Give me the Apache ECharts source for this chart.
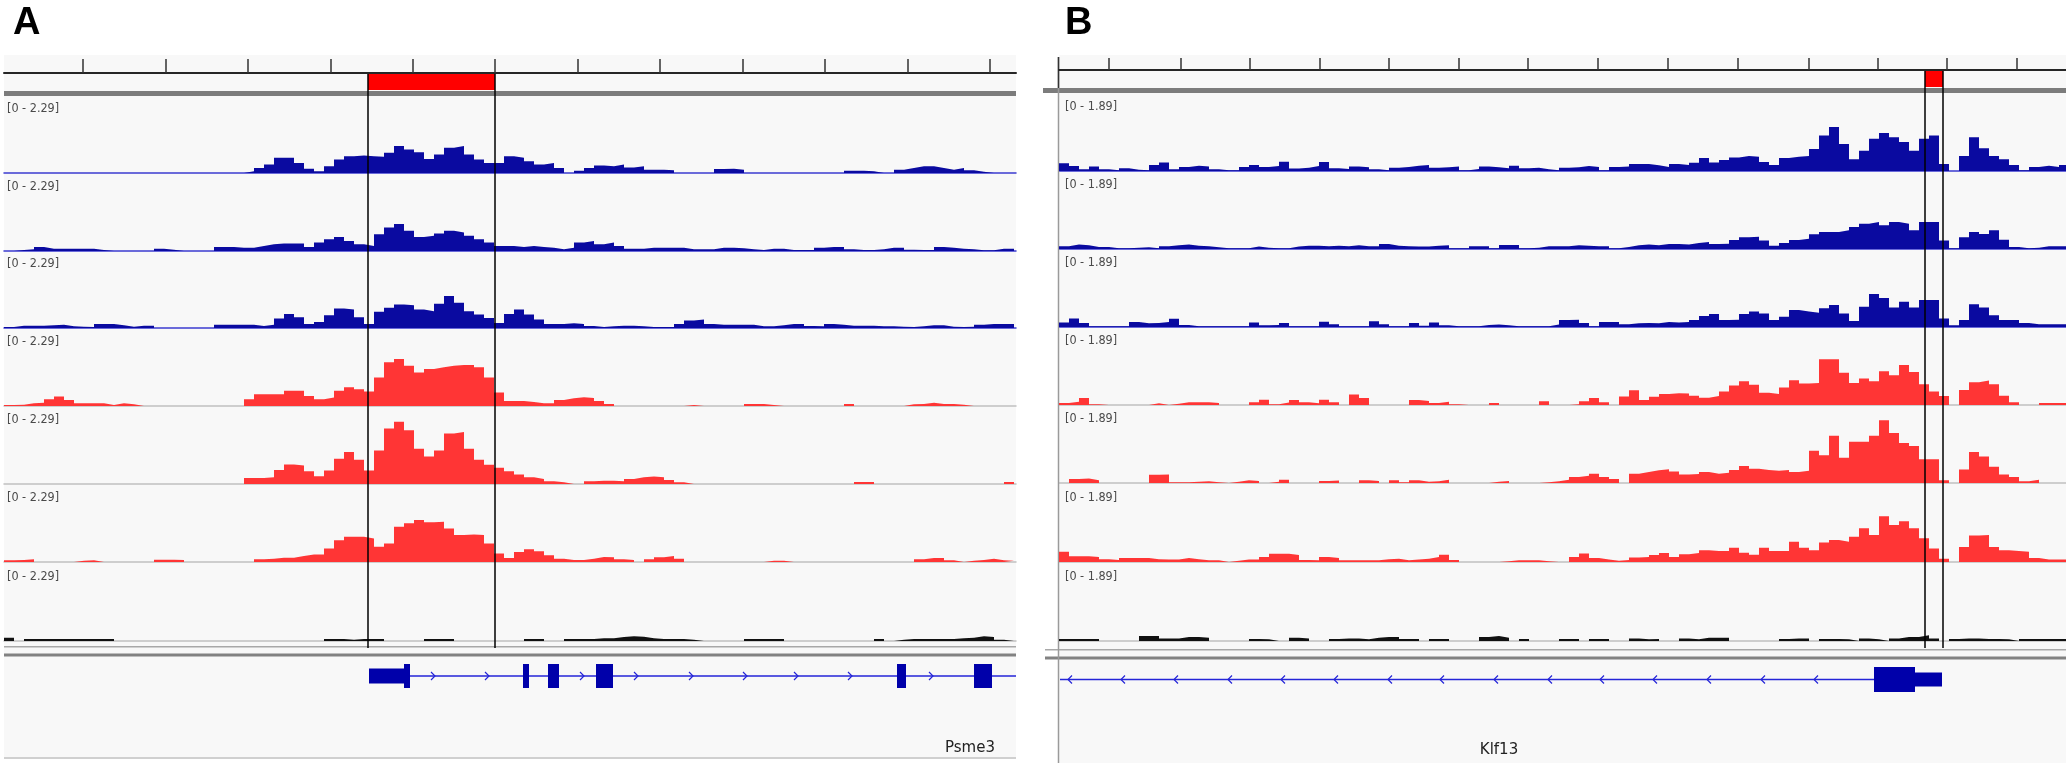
<!DOCTYPE html>
<html>
<head>
<meta charset="utf-8">
<script src="https://cdn.jsdelivr.net/npm/echarts@6/dist/echarts.min.js"></script>
<style>
  html, body { margin: 0; padding: 0; background: #fff; }
  #chart { width: 2066px; height: 765px; }
</style>
</head>
<body>
<div id="chart"></div>
<script>
// coverage per 10-px bin, panel A (Psme3), data range 0 - 2.29
const psme3Blue1 = [0,0,0,0,0,0,0,0,0,0, 0,0,0,0,0,0,0,0,0,0, 0,0,0,0,0.05,0.15,0.25,0.45,0.45,0.3,
  0.13,0.05,0.2,0.4,0.5,0.52,0.5,0.48,0.6,0.8, 0.7,0.62,0.42,0.55,0.75,0.8,0.55,0.4,0.3,0.3,
  0.5,0.45,0.35,0.25,0.3,0.15,0,0.07,0.15,0.22, 0.2,0.25,0.16,0.2,0.1,0.1,0.08,0,0,0,
  0,0.12,0.13,0.1,0,0,0,0,0,0, 0,0,0,0,0.07,0.07,0.05,0,0,0.1,
  0.15,0.2,0.2,0.15,0.1,0.15,0.08,0.04,0,0, 0];
const psme3Blue2 = [0,0.03,0.05,0.12,0.07,0.07,0.07,0.07,0.07,0.03, 0,0,0,0,0,0.07,0.04,0,0,0,
  0,0.12,0.12,0.1,0.1,0.15,0.2,0.22,0.22,0.22, 0.12,0.25,0.35,0.42,0.3,0.2,0.15,0.5,0.7,0.8,
  0.6,0.42,0.45,0.52,0.6,0.55,0.45,0.35,0.25,0.15, 0.15,0.12,0.15,0.12,0.1,0.05,0.1,0.25,0.3,0.2,
  0.25,0.15,0.07,0.07,0.1,0.1,0.1,0.1,0.05,0.05, 0.05,0.1,0.1,0.08,0.05,0.03,0.07,0.07,0.03,0.03,
  0.03,0.1,0.12,0.12,0.05,0.03,0.03,0.05,0.1,0.1, 0.04,0.03,0.03,0.12,0.1,0.07,0.05,0.02,0.02,0.07,
  0.07];
const psme3Blue3 = [0.03,0.07,0.07,0.07,0.08,0.1,0.05,0.04,0.03,0.12, 0.12,0.08,0.04,0.07,0.07,0,0,0,0,0,
  0,0.1,0.1,0.1,0.1,0.06,0.1,0.28,0.42,0.32, 0.12,0.18,0.38,0.58,0.55,0.32,0.12,0.48,0.6,0.7,
  0.68,0.55,0.5,0.72,0.95,0.75,0.5,0.4,0.3,0.15, 0.42,0.55,0.4,0.25,0.12,0.12,0.14,0.12,0.06,0.03,
  0.05,0.07,0.07,0.05,0.03,0.03,0.03,0.12,0.22,0.25, 0.12,0.1,0.1,0.1,0.1,0.05,0.05,0.08,0.12,0.12,
  0.06,0.05,0.12,0.1,0.07,0.07,0.07,0.05,0.05,0.04, 0.03,0.05,0.08,0.08,0.04,0.03,0.04,0.1,0.12,0.12,
  0.12];
const psme3Red1 = [0.03,0.04,0.08,0.1,0.2,0.28,0.18,0.08,0.08,0.08, 0.03,0.08,0.05,0,0,0,0,0,0,0,
  0,0,0,0,0.2,0.35,0.35,0.35,0.45,0.45, 0.3,0.2,0.25,0.45,0.56,0.5,0.43,0.85,1.3,1.4,
  1.2,1.0,1.1,1.15,1.2,1.22,1.22,1.15,0.85,0.4, 0.15,0.15,0.12,0.08,0.08,0.18,0.23,0.26,0.24,0.15,
  0.06,0,0,0,0,0,0,0,0.03,0, 0,0,0,0,0.06,0.06,0.03,0,0,0,
  0,0,0,0,0.06,0,0,0,0,0, 0.05,0.06,0.1,0.06,0.06,0.04,0,0,0,0,
  0];
const psme3Red2 = [0,0,0,0,0,0,0,0,0,0, 0,0,0,0,0,0,0,0,0,0,
  0,0,0,0,0.18,0.18,0.2,0.42,0.58,0.55, 0.38,0.23,0.4,0.75,0.95,0.72,0.4,1.0,1.65,1.85,
  1.6,1.05,0.82,1.0,1.5,1.55,1.05,0.72,0.57,0.48, 0.38,0.28,0.2,0.15,0.08,0.05,0,0,0.08,0.1,
  0.1,0.08,0.15,0.2,0.22,0.2,0.12,0.05,0,0, 0,0,0,0,0,0,0,0,0,0,
  0,0,0,0,0,0.06,0.06,0,0,0, 0,0,0,0,0,0,0,0,0,0,
  0.06];
const psme3Red3 = [0.05,0.06,0.08,0,0,0,0,0.04,0.05,0, 0,0,0,0,0,0.07,0.07,0.06,0,0,
  0,0,0,0,0,0.08,0.1,0.13,0.13,0.18, 0.22,0.22,0.4,0.65,0.75,0.75,0.7,0.45,0.55,1.05,
  1.15,1.25,1.18,1.2,1.0,0.8,0.82,0.8,0.55,0.25, 0.12,0.3,0.38,0.32,0.2,0.1,0.06,0.06,0.1,0.15,
  0.14,0.08,0.06,0,0.08,0.14,0.18,0.1,0,0, 0,0,0,0,0,0,0.04,0.04,0,0,
  0,0,0,0,0,0,0,0,0,0, 0,0.08,0.12,0.12,0.05,0,0.04,0.06,0.1,0.05,
  0.04];
const psme3Input = [0.1,0,0.06,0.06,0.06,0.06,0.06,0.06,0.06,0.06, 0.06,0,0,0,0,0,0,0,0,0,
  0,0,0,0,0,0,0,0,0,0, 0,0,0.06,0.06,0.04,0.06,0.06,0.06,0,0,
  0,0,0.06,0.06,0.06,0,0,0,0,0, 0,0,0.06,0.06,0,0,0.06,0.06,0.06,0.08,
  0.08,0.12,0.14,0.13,0.08,0.06,0.06,0.06,0.04,0, 0,0,0,0,0.06,0.06,0.06,0.06,0,0,
  0,0,0,0,0,0,0,0.06,0,0.04, 0.06,0.06,0.06,0.06,0.06,0.08,0.1,0.14,0.12,0.04,
  0];

// coverage per 10-px bin, panel B (Klf13), data range 0 - 1.89
const klf13Blue1 = [0.19,0.12,0.04,0.11,0.04,0.02,0.07,0.03,0.02,0.15, 0.21,0.04,0.1,0.13,0.11,0.04,0.02,0.02,0.1,0.15,
  0.1,0.12,0.23,0.06,0.08,0.12,0.22,0.07,0.05,0.11, 0.09,0.04,0.02,0.08,0.1,0.13,0.15,0.08,0.09,0.11,
  0.02,0.05,0.11,0.09,0.07,0.13,0.07,0.08,0.04,0.02, 0.08,0.09,0.12,0.1,0.02,0.1,0.11,0.17,0.17,0.14,
  0.1,0.17,0.15,0.2,0.32,0.21,0.27,0.33,0.37,0.35, 0.22,0.15,0.32,0.35,0.37,0.54,0.87,1.08,0.66,0.29,
  0.5,0.79,0.93,0.83,0.71,0.5,0.79,0.87,0.17,0, 0.37,0.83,0.56,0.37,0.29,0.15,0.02,0.1,0.13,0.1,
  0.15];
const klf13Blue2 = [0.07,0.11,0.09,0.05,0.05,0.02,0.02,0.03,0.04,0.02, 0.07,0.09,0.11,0.08,0.07,0.04,0.02,0.02,0.02,0.06,
  0.03,0.02,0.02,0.06,0.08,0.08,0.07,0.08,0.07,0.09, 0.07,0.07,0.12,0.08,0.07,0.06,0.06,0.08,0.09,0.02,
  0.02,0.07,0.07,0.02,0.1,0.1,0.02,0.03,0.07,0.07, 0.07,0.09,0.08,0.07,0.07,0.02,0.05,0.09,0.11,0.09,
  0.12,0.12,0.11,0.15,0.17,0.12,0.13,0.22,0.29,0.3, 0.21,0.08,0.15,0.22,0.25,0.36,0.42,0.42,0.46,0.54,
  0.62,0.66,0.58,0.66,0.62,0.46,0.66,0.66,0.21,0.02, 0.29,0.42,0.37,0.46,0.23,0.05,0.02,0.03,0.07,0.07,
  0.07];
const klf13Blue3 = [0.11,0.21,0.1,0.02,0.02,0.02,0.02,0.12,0.09,0.1, 0.12,0.2,0.05,0.02,0.02,0.02,0.02,0.02,0.02,0.11,
  0.04,0.05,0.1,0.02,0.02,0.02,0.13,0.07,0.02,0.02, 0.02,0.14,0.07,0.02,0.02,0.1,0.03,0.11,0.04,0.02,
  0.02,0.02,0.05,0.06,0.04,0.02,0.02,0.02,0.02,0.06, 0.17,0.18,0.1,0.02,0.12,0.12,0.07,0.09,0.1,0.09,
  0.12,0.11,0.12,0.17,0.27,0.32,0.17,0.18,0.32,0.38, 0.33,0.17,0.25,0.42,0.38,0.35,0.46,0.54,0.33,0.15,
  0.5,0.81,0.71,0.48,0.62,0.48,0.66,0.66,0.21,0.04, 0.17,0.56,0.48,0.29,0.17,0.17,0.1,0.07,0.07,0.07,
  0.07];
const klf13Red1 = [0.05,0.08,0.17,0.02,0,0,0,0,0,0.04, 0,0.03,0.07,0.07,0.07,0.05,0,0,0,0.07,
  0.13,0.02,0.06,0.12,0.07,0.04,0.13,0.07,0,0.26, 0.17,0,0,0,0,0.12,0.1,0.05,0.08,0.02,
  0,0,0,0.05,0,0,0,0,0.09,0, 0,0.02,0.09,0.17,0.07,0,0.21,0.36,0.12,0.2,
  0.27,0.29,0.28,0.23,0.18,0.22,0.33,0.48,0.58,0.5, 0.3,0.27,0.43,0.61,0.53,0.54,1.12,1.12,0.79,0.54,
  0.65,0.58,0.83,0.73,0.98,0.81,0.51,0.33,0.22,0, 0.37,0.56,0.6,0.51,0.23,0.07,0,0,0.05,0.05,
  0.05];
const klf13Red2 = [0,0.1,0.11,0.07,0,0,0,0,0,0.2, 0.21,0.02,0.02,0.03,0.04,0.02,0,0.03,0.07,0.05,
  0,0.03,0.08,0,0,0,0.05,0.06,0,0, 0.07,0.05,0,0.07,0.02,0.07,0.03,0.04,0.08,0,
  0,0,0,0.03,0.05,0,0,0,0.02,0.04, 0.08,0.15,0.18,0.23,0.15,0.1,0,0.23,0.27,0.31,
  0.34,0.28,0.21,0.22,0.27,0.23,0.25,0.32,0.42,0.35, 0.32,0.3,0.32,0.27,0.3,0.79,0.68,1.16,0.62,1.01,
  1.01,1.16,1.54,1.23,0.98,0.91,0.58,0.58,0.07,0, 0.33,0.76,0.65,0.4,0.21,0.15,0.04,0.08,0,0,
  0];
const klf13Red3 = [0.25,0.14,0.14,0.12,0.07,0.05,0.1,0.1,0.1,0.07, 0.06,0.06,0.1,0.07,0.04,0.04,0,0.03,0.06,0.06,
  0.12,0.2,0.2,0.17,0.05,0.04,0.12,0.1,0.04,0.04, 0.04,0.04,0.07,0.08,0.04,0.06,0.08,0.12,0.18,0.05,
  0,0,0,0,0.02,0.04,0.04,0.04,0.02,0, 0,0.12,0.21,0.1,0.06,0.03,0.05,0.11,0.12,0.17,
  0.22,0.12,0.19,0.22,0.29,0.27,0.27,0.35,0.23,0.18, 0.35,0.27,0.27,0.5,0.35,0.29,0.48,0.54,0.5,0.62,
  0.83,0.66,1.12,0.91,1.0,0.83,0.58,0.33,0.08,0, 0.37,0.65,0.66,0.37,0.29,0.27,0.25,0.1,0.06,0.06,
  0.06];
const klf13Input = [0.05,0.05,0.05,0.05,0,0,0,0,0.12,0.12, 0.06,0.06,0.1,0.1,0.08,0,0,0,0,0.05,
  0.04,0,0,0.08,0.06,0,0,0.05,0.06,0.06, 0.04,0.08,0.1,0.1,0.05,0.05,0,0.05,0.05,0,
  0,0,0.1,0.12,0.08,0,0.05,0,0,0, 0.05,0.05,0,0.05,0.05,0,0,0.06,0.04,0.05,
  0,0,0.06,0.04,0.08,0.08,0.08,0,0,0, 0,0,0.05,0.06,0.06,0,0.05,0.05,0.04,0,
  0.06,0.04,0,0.06,0.1,0.1,0.14,0.06,0,0.05, 0.06,0.06,0.05,0.05,0.04,0,0.05,0.05,0.05,0.05,
  0.05];

// ruler ticks and highlighted region (bin units)
const psme3Ticks = [7.9, 16.2, 24.4, 32.7, 40.9, 49.1, 57.4, 65.6, 73.9, 82.1, 90.4, 98.6];
const klf13Ticks = [5.0, 12.2, 19.1, 26.1, 33.0, 40.0, 46.9, 53.9, 60.9, 67.9, 75.0, 81.9, 88.8, 95.8];
const psme3Region = [36.4, 49.1];
const klf13Region = [86.6, 88.4];

// gene models (bin units)
const psme3Exons = [[40.0, 40.6], [51.9, 52.5], [54.4, 55.5], [59.2, 60.9], [89.3, 90.2], [97.0, 98.8]];
const psme3Utr = [[36.5, 40.0]];
const psme3Intron = [[40.6, 101.2]];
const psme3Arrows = [42.9, 48.3, 57.8, 63.2, 68.7, 74.1, 79.2, 84.6, 92.7];
const klf13Exons = [[81.5, 85.6]];
const klf13Utr = [[85.6, 88.3]];
const klf13Intron = [[0.1, 81.5]];
const klf13Arrows = [1.1, 6.4, 11.7, 17.1, 22.4, 27.7, 33.1, 38.3, 43.7, 49.1, 54.3, 59.6, 65.0, 70.4, 75.7];

const BLUE = '#0a0aa0', RED = '#ff3535', BLACK = '#111111';
const TRACK_COLORS = [BLUE, BLUE, BLUE, RED, RED, RED, BLACK];
const GENE_BOX = '#0000aa', GENE_LINE = '#2525d8';
const TRACK_H = 77;
const LABEL_FONT = '12.5px "DejaVu Sans Condensed", "Liberation Sans Narrow", sans-serif';

const panels = [
  {
    name: 'A', left: 4, width: 1012, yMax: 2.29, rangeLabel: '[0 - 2.29]', labelX: 7,
    baselines: [173, 251, 328, 406, 484, 562, 641],
    tracks: [psme3Blue1, psme3Blue2, psme3Blue3, psme3Red1, psme3Red2, psme3Red3, psme3Input],
    ruler: { top: 58, height: 15, tick: 14 }, ticks: psme3Ticks,
    region: psme3Region, boxTop: 74, boxH: 16, linesBottom: 648,
    gene: { top: 664, height: 24, utrFrac: 0.62, dir: 1,
            exons: psme3Exons, utr: psme3Utr, intron: psme3Intron, arrows: psme3Arrows },
    letter: { x: 13, y: 24 },
    geneName: { text: 'Psme3', x: 995, y: 748, align: 'right' }
  },
  {
    name: 'B', left: 1059, width: 1007, yMax: 1.89, rangeLabel: '[0 - 1.89]', labelX: 1065,
    baselines: [171, 249, 327, 405, 483, 562, 641],
    tracks: [klf13Blue1, klf13Blue2, klf13Blue3, klf13Red1, klf13Red2, klf13Red3, klf13Input],
    ruler: { top: 56, height: 14, tick: 12 }, ticks: klf13Ticks,
    region: klf13Region, boxTop: 71, boxH: 16, linesBottom: 648,
    gene: { top: 667, height: 25, utrFrac: 0.56, dir: -1,
            exons: klf13Exons, utr: klf13Utr, intron: klf13Intron, arrows: klf13Arrows },
    letter: { x: 1065, y: 24 },
    geneName: { text: 'Klf13', x: 1499, y: 750, align: 'center' }
  }
];

const grid = [], xAxis = [], yAxis = [], series = [], elements = [];

function addGrid(g, xMax, yMax, xOpts) {
  grid.push(g);
  const i = grid.length - 1;
  xAxis.push(Object.assign({
    type: 'value', gridIndex: i, min: 0, max: xMax, z: 5,
    axisLine: { show: false }, axisTick: { show: false },
    axisLabel: { show: false }, splitLine: { show: false }
  }, xOpts || {}));
  yAxis.push({ type: 'value', gridIndex: i, min: 0, max: yMax, show: false, splitLine: { show: false } });
  return i;
}

function spanRect(frac) {
  return function (params, api) {
    const a = api.coord([api.value(0), 0.5]);
    const b = api.coord([api.value(1), 0.5]);
    const cs = params.coordSys;
    const h = cs.height * frac;
    return { type: 'rect', shape: { x: a[0], y: cs.y + (cs.height - h) / 2, width: b[0] - a[0], height: h },
             style: { fill: GENE_BOX } };
  };
}

panels.forEach(p => {
  const xMax = p.width / 10;

  // background of the panel
  elements.push({ type: 'rect', z: 0, shape: { x: p.left, y: 55, width: p.width, height: p.name === 'A' ? 703 : 708 },
                  style: { fill: '#f8f8f8' } });

  // coverage tracks
  p.tracks.forEach((vals, t) => {
    const base = p.baselines[t];
    const i = addGrid({ left: p.left, top: base - TRACK_H, width: p.width, height: TRACK_H }, xMax, p.yMax, {
      z: 1,
      axisLine: { show: true, onZero: false,
                  lineStyle: { color: t < 3 ? '#3b3bd0' : '#c0c0c0', width: t < 3 ? 1.5 : 1.5 } }
    });
    const data = vals.map((v, k) => [k, v]);
    data.push([vals.length, vals[vals.length - 1]]);
    series.push({
      type: 'line', xAxisIndex: i, yAxisIndex: i, step: 'end', symbol: 'none', data,
      lineStyle: { width: 0, opacity: 0 }, areaStyle: { color: TRACK_COLORS[t], opacity: 1 },
      silent: true, z: 3
    });
    elements.push({ type: 'text', z: 4, style: { text: p.rangeLabel, x: p.labelX, y: base - TRACK_H + 13,
                    font: LABEL_FONT, fill: '#4a4a4a', verticalAlign: 'middle' } });
  });

  // ruler with ticks, red region box and the two guide lines
  const r = addGrid({ left: p.left, top: p.ruler.top, width: p.width, height: p.ruler.height }, xMax, 1, {
    axisLine: { show: true, onZero: false, lineStyle: { color: '#262626', width: 2 } },
    axisTick: { show: true, inside: true, length: p.ruler.tick, customValues: p.ticks,
                lineStyle: { color: '#333', width: 1.5 } },
    axisLabel: { show: false }
  });
  series.push({
    type: 'custom', xAxisIndex: r, yAxisIndex: r, z: 20, silent: true,
    encode: { x: [0, 1], y: 2 },
    data: [[p.region[0], p.region[1], 0.5]],
    renderItem: (params, api) => {
      const x0 = api.coord([api.value(0), 0.5])[0];
      const x1 = api.coord([api.value(1), 0.5])[0];
      return { type: 'group', children: [
        { type: 'rect', shape: { x: x0, y: p.boxTop, width: x1 - x0, height: p.boxH }, style: { fill: '#ff0000' } },
        { type: 'line', shape: { x1: x0, y1: p.boxTop, x2: x0, y2: p.linesBottom }, style: { stroke: '#000', lineWidth: 1.5 } },
        { type: 'line', shape: { x1: x1, y1: p.boxTop, x2: x1, y2: p.linesBottom }, style: { stroke: '#000', lineWidth: 1.5 } }
      ] };
    }
  });

  // gene model
  const g = p.gene;
  const gi = addGrid({ left: p.left, top: g.top, width: p.width, height: g.height }, xMax, 1);
  series.push({
    type: 'custom', xAxisIndex: gi, yAxisIndex: gi, z: 6, silent: true,
    encode: { x: [0, 1], y: 2 }, data: g.intron.map(d => [d[0], d[1], 0.5]),
    renderItem: (params, api) => {
      const a = api.coord([api.value(0), 0.5]), b = api.coord([api.value(1), 0.5]);
      return { type: 'line', shape: { x1: a[0], y1: a[1], x2: b[0], y2: b[1] }, style: { stroke: GENE_LINE, lineWidth: 1.5 } };
    }
  });
  series.push({
    type: 'custom', xAxisIndex: gi, yAxisIndex: gi, z: 7, silent: true,
    encode: { x: 0, y: 1 }, data: g.arrows.map(v => [v, 0.5]),
    renderItem: (params, api) => {
      const c = api.coord([api.value(0), 0.5]);
      const d = g.dir * 2;
      return { type: 'polyline', shape: { points: [[c[0] - d, c[1] - 4], [c[0] + d, c[1]], [c[0] - d, c[1] + 4]] },
               style: { stroke: GENE_LINE, lineWidth: 1.2, fill: null } };
    }
  });
  series.push({
    type: 'custom', xAxisIndex: gi, yAxisIndex: gi, z: 8, silent: true,
    encode: { x: [0, 1], y: 2 }, data: g.utr.map(d => [d[0], d[1], 0.5]), renderItem: spanRect(g.utrFrac)
  });
  series.push({
    type: 'custom', xAxisIndex: gi, yAxisIndex: gi, z: 8, silent: true,
    encode: { x: [0, 1], y: 2 }, data: g.exons.map(d => [d[0], d[1], 0.5]), renderItem: spanRect(1)
  });

  elements.push({ type: 'text', z: 4, style: { text: p.name, x: p.letter.x, y: p.letter.y,
                  font: 'bold 38px "Liberation Sans", Arial, sans-serif', fill: '#000', verticalAlign: 'middle' } });
  elements.push({ type: 'text', z: 4, style: { text: p.geneName.text, x: p.geneName.x, y: p.geneName.y,
                  font: '15px "DejaVu Sans", sans-serif', fill: '#222', align: p.geneName.align, verticalAlign: 'middle' } });
});

// panel separators (IGV frame)
elements.push(
  { type: 'rect', z: 2, shape: { x: 4, y: 91, width: 1012, height: 5 }, style: { fill: '#7c7c7c' } },
  { type: 'rect', z: 2, shape: { x: 4, y: 646, width: 1012, height: 1.5 }, style: { fill: '#a8a8a8' } },
  { type: 'rect', z: 2, shape: { x: 4, y: 653.5, width: 1012, height: 3 }, style: { fill: '#828282' } },
  { type: 'rect', z: 2, shape: { x: 4, y: 757, width: 1012, height: 2 }, style: { fill: '#d0d0d0' } },
  { type: 'rect', z: 2, shape: { x: 1043, y: 88, width: 1023, height: 5 }, style: { fill: '#7c7c7c' } },
  { type: 'rect', z: 2, shape: { x: 1045, y: 649, width: 1021, height: 1.5 }, style: { fill: '#a8a8a8' } },
  { type: 'rect', z: 2, shape: { x: 1045, y: 656.5, width: 1021, height: 3 }, style: { fill: '#828282' } },
  { type: 'line', z: 2, shape: { x1: 1058.5, y1: 57, x2: 1058.5, y2: 763 }, style: { stroke: '#9a9a9a', lineWidth: 1.5 } },
  { type: 'line', z: 2, shape: { x1: 1058.5, y1: 57, x2: 1058.5, y2: 88 }, style: { stroke: '#333', lineWidth: 1.5 } }
);

const chart = echarts.init(document.getElementById('chart'));
chart.setOption({
  animation: false,
  backgroundColor: '#ffffff',
  grid, xAxis, yAxis, series,
  graphic: { elements }
});
</script>
</body>
</html>
